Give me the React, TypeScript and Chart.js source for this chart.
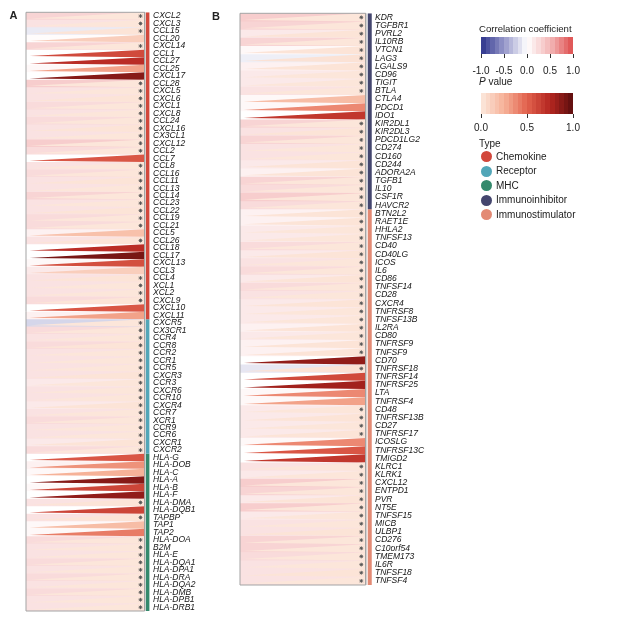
import React, { useEffect, useRef } from 'react';
import { Chart, registerables } from 'chart.js';
Chart.register(...registerables);

// ---------- DATA ----------
const genesA = ['CXCL2','CXCL3','CCL15','CCL20','CXCL14','CCL1','CCL27','CCL25','CXCL17','CCL28','CXCL5','CXCL6','CXCL1','CXCL8','CCL24','CXCL16','CX3CL1','CXCL12','CCL2','CCL7','CCL8','CCL16','CCL11','CCL13','CCL14','CCL23','CCL22','CCL19','CCL21','CCL5','CCL26','CCL18','CCL17','CXCL13','CCL3','CCL4','XCL1','XCL2','CXCL9','CXCL10','CXCL11','CXCR5','CX3CR1','CCR4','CCR8','CCR2','CCR1','CCR5','CXCR3','CCR3','CXCR6','CCR10','CXCR4','CCR7','XCR1','CCR9','CCR6','CXCR1','CXCR2','HLA-G','HLA-DOB','HLA-C','HLA-A','HLA-B','HLA-F','HLA-DMA','HLA-DQB1','TAPBP','TAP1','TAP2','HLA-DOA','B2M','HLA-E','HLA-DQA1','HLA-DPA1','HLA-DRA','HLA-DQA2','HLA-DMB','HLA-DPB1','HLA-DRB1'];
const corrA = [0.3,0.2,-0.1,0.02,0.3,0.0,0.0,0.05,0.0,0.35,0.2,0.2,0.25,0.2,0.25,0.2,0.2,0.35,0.25,0.0,0.2,0.25,0.2,0.2,0.3,0.2,0.2,0.25,0.25,0.1,0.2,0.0,0.0,0.05,0.15,0.2,0.2,0.2,0.25,0.0,0.1,-0.2,0.25,0.2,0.25,0.2,0.2,0.2,0.2,0.15,0.2,0.2,0.15,0.2,0.25,0.2,0.2,0.15,0.25,0.0,0.1,0.05,0.0,0.05,0.0,0.2,0.0,0.2,0.05,0.05,0.25,0.2,0.2,0.25,0.2,0.25,0.2,0.25,0.2,0.2];
const pA = [0.01,0.01,0.02,0.12,0.01,0.6,0.72,0.3,0.88,0.01,0.01,0.02,0.01,0.01,0.01,0.02,0.01,0.01,0.01,0.55,0.01,0.01,0.02,0.01,0.01,0.01,0.02,0.01,0.01,0.18,0.02,0.72,0.92,0.58,0.12,0.02,0.01,0.01,0.02,0.55,0.3,0.01,0.01,0.01,0.02,0.01,0.01,0.01,0.02,0.01,0.01,0.01,0.02,0.01,0.01,0.01,0.01,0.02,0.01,0.55,0.35,0.25,0.88,0.62,0.85,0.02,0.62,0.02,0.2,0.42,0.01,0.01,0.01,0.01,0.01,0.01,0.01,0.01,0.01,0.01];
const typeNamesA = ['Chemokine','Receptor','MHC'];
const typeCountsA = [41,18,21];

const genesB = ['KDR','TGFBR1','PVRL2','IL10RB','VTCN1','LAG3','LGALS9','CD96','TIGIT','BTLA','CTLA4','PDCD1','IDO1','KIR2DL1','KIR2DL3','PDCD1LG2','CD274','CD160','CD244','ADORA2A','TGFB1','IL10','CSF1R','HAVCR2','BTN2L2','RAET1E','HHLA2','TNFSF13','CD40','CD40LG','ICOS','IL6','CD86','TNFSF14','CD28','CXCR4','TNFRSF8','TNFSF13B','IL2RA','CD80','TNFRSF9','TNFSF9','CD70','TNFRSF18','TNFRSF14','TNFRSF25','LTA','TNFRSF4','CD48','TNFRSF13B','CD27','TNFRSF17','ICOSLG','TNFRSF13C','TMIGD2','KLRC1','KLRK1','CXCL12','ENTPD1','PVR','NT5E','TNFSF15','MICB','ULBP1','CD276','C10orf54','TMEM173','IL6R','TNFSF18','TNFSF4'];
const corrB = [0.35,0.3,0.15,0.3,0.05,-0.08,0.1,0.15,0.15,0.2,0.05,0.05,0.0,0.3,0.2,0.3,0.2,0.2,0.15,0.1,0.3,0.25,0.35,0.25,0.1,0.1,0.15,0.15,0.25,0.15,0.2,0.25,0.15,0.25,0.2,0.15,0.15,0.15,0.1,0.15,0.1,0.1,0.0,-0.12,0.0,0.0,0.05,0.05,0.15,0.15,0.15,0.15,0.05,0.0,0.0,0.2,0.15,0.35,0.3,0.15,0.35,0.15,0.2,0.2,0.3,0.3,0.25,0.2,0.2,0.2];
const pB = [0.01,0.01,0.02,0.01,0.02,0.03,0.02,0.01,0.01,0.01,0.2,0.38,0.68,0.01,0.02,0.01,0.01,0.01,0.02,0.02,0.01,0.01,0.01,0.01,0.02,0.02,0.01,0.01,0.01,0.02,0.01,0.01,0.02,0.01,0.01,0.02,0.01,0.01,0.02,0.01,0.02,0.02,0.85,0.03,0.6,0.8,0.38,0.3,0.01,0.02,0.01,0.02,0.38,0.55,0.68,0.01,0.01,0.01,0.01,0.02,0.01,0.01,0.01,0.02,0.01,0.01,0.01,0.01,0.02,0.01];
const typeNamesB = ['Immunoinhibitor','Immunostimulator'];
const typeCountsB = [24,46];

const legendTypes = ['Chemokine','Receptor','MHC','Immunoinhibitor','Immunostimulator'];
const corrTicks = [-1, -0.5, 0, 0.5, 1];
const pTicks = [0, 0.5, 1];

// ---------- STYLE ----------
const typeColors: Record<string, string> = {
  Chemokine: '#d2473b',
  Receptor: '#52a6b8',
  MHC: '#34896c',
  Immunoinhibitor: '#44466e',
  Immunostimulator: '#e38a74',
};
const corrStops: [number, number[]][] = [[-1,[46,52,140]],[-0.5,[150,152,202]],[0,[255,255,255]],[0.5,[243,183,183]],[1,[222,78,78]]];
const pStops: [number, number[]][] = [[0,[252,232,221]],[0.25,[246,178,152]],[0.5,[226,98,78]],[0.75,[180,38,32]],[1,[92,14,14]]];

function interp(stops: [number, number[]][], v: number) {
  if (v <= stops[0][0]) return `rgb(${stops[0][1].join(',')})`;
  for (let k = 1; k < stops.length; k++) {
    const [v1, c1] = stops[k];
    const [v0, c0] = stops[k - 1];
    if (v <= v1) {
      const t = (v - v0) / (v1 - v0);
      const c = c0.map((a, j) => Math.round(a + (c1[j] - a) * t));
      return `rgb(${c.join(',')})`;
    }
  }
  return `rgb(${stops[stops.length - 1][1].join(',')})`;
}
const corrColor = (v: number) => interp(corrStops, v);
const pColor = (v: number) => interp(pStops, v);

const FONT = 'Arial, "Liberation Sans", Helvetica, sans-serif';
const TIP_X = 0.03;
const TIP_Y = 0.33;
const STAR_X = 0.965;

function buildConfig(genes: string[], corr: number[], p: number[], typeNames: string[], typeCounts: number[],
  xMax: number, s0: number, s1: number, pad: any, labelW: number): any {
  const n = genes.length;
  const ds: any[] = [];
  genes.forEach((_, i) => {
    const ext = i < n - 1 ? 0.15 : 0;
    ds.push({
      data: [{ x: 0, y: i - 0.5 }, { x: 1, y: i - 0.5 }, { x: 1, y: i + 0.5 + ext }, { x: 0, y: i + 0.5 + ext }],
      fill: 'shape', backgroundColor: corrColor(corr[i]), borderColor: 'rgba(0,0,0,0)', borderWidth: 0,
      pointRadius: 0, order: 3000 - i,
    });
  });
  genes.forEach((_, i) => {
    ds.push({
      data: [{ x: TIP_X, y: i + TIP_Y }, { x: 1, y: i - 0.5 }, { x: 1, y: i + 0.5 }],
      fill: 'shape', backgroundColor: pColor(p[i]), borderColor: 'rgba(0,0,0,0)', borderWidth: 0,
      pointRadius: 0, order: 2000 - i,
    });
  });
  let start = 0;
  typeNames.forEach((t, k) => {
    const end = start + typeCounts[k];
    ds.push({
      data: [{ x: s0, y: start - 0.5 }, { x: s1, y: start - 0.5 }, { x: s1, y: end - 0.5 }, { x: s0, y: end - 0.5 }],
      fill: 'shape', backgroundColor: typeColors[t], borderColor: 'rgba(0,0,0,0)', borderWidth: 0,
      pointRadius: 0, order: 500,
    });
    start = end;
  });
  ds.push({
    data: [{ x: 0, y: -0.5 }, { x: 1, y: -0.5 }, { x: 1, y: n - 0.5 }, { x: 0, y: n - 0.5 }, { x: 0, y: -0.5 }],
    fill: false, borderColor: '#a3a3a3', borderWidth: 1, pointRadius: 0, clip: false, order: 10,
  });
  ds.push({
    data: genes.map((_, i) => (p[i] < 0.05 ? { x: STAR_X, y: i } : null)).filter(Boolean),
    showLine: false, pointStyle: 'star', pointRadius: 1.9, pointBorderColor: '#555', pointBackgroundColor: '#555',
    pointBorderWidth: 0.9, order: 0,
  });
  return {
    type: 'line',
    data: { datasets: ds },
    options: {
      animation: false, responsive: false, maintainAspectRatio: false,
      layout: { padding: pad },
      plugins: { legend: { display: false }, tooltip: { enabled: false }, filler: { propagate: false } },
      elements: { line: { tension: 0 }, point: { radius: 0 } },
      events: [],
      scales: {
        x: { type: 'linear', min: 0, max: xMax, display: false },
        y: {
          type: 'linear', min: -0.5, max: n - 0.5, reverse: true, position: 'right',
          grid: { display: false, drawTicks: false }, border: { display: false },
          afterBuildTicks: (s: any) => { s.ticks = genes.map((_, i) => ({ value: i })); },
          afterFit: (s: any) => { s.width = labelW; s.paddingTop = 0; s.paddingBottom = 0; },
          ticks: {
            autoSkip: false, padding: 3, color: '#151515',
            font: { family: FONT, size: 8.5, style: 'italic' },
            callback: (v: any) => genes[Math.round(Number(v))] ?? '',
          },
        },
      },
    },
  };
}

function Panel({ cfg, left, width, height }: any) {
  const ref = useRef<HTMLCanvasElement>(null);
  useEffect(() => {
    const c = new Chart(ref.current as HTMLCanvasElement, cfg);
    return () => c.destroy();
  }, []);
  return <canvas ref={ref} width={width} height={height} style={{ position: 'absolute', left, top: 0, width, height }} />;
}

function ColorBar({ top, height, color, min, max }: any) {
  const steps = 20;
  const blocks = [];
  for (let k = 0; k < steps; k++) {
    const v = min + ((k + 0.5) / steps) * (max - min);
    blocks.push(<div key={k} style={{ flex: 1, background: color(v) }} />);
  }
  return <div style={{ position: 'absolute', left: 481, top, width: 92, height, display: 'flex' }}>{blocks}</div>;
}

function Ticks({ top, ticks, min, max, labelTop }: any) {
  return (
    <>
      {ticks.map((t: number, k: number) => {
        const x = 481 + ((t - min) / (max - min)) * 92;
        return (
          <React.Fragment key={k}>
            <div style={{ position: 'absolute', left: x - 0.5, top, width: 1, height: 4, background: '#333' }} />
            <div style={{ position: 'absolute', left: x - 20, width: 40, top: labelTop, textAlign: 'center', fontSize: 10, lineHeight: '10px', color: '#222' }}>
              {t.toFixed(1)}
            </div>
          </React.Fragment>
        );
      })}
    </>
  );
}

export default function App() {
  const cfgA = buildConfig(genesA, corrA, pA, typeNamesA, typeCountsA, 1.045, 1.01, 1.04,
    { left: 26, top: 12.3, right: 0, bottom: 9 }, 55);
  const cfgB = buildConfig(genesB, corrB, pB, typeNamesB, typeCountsB, 1.05, 1.016, 1.048,
    { left: 40, top: 13.3, right: 0, bottom: 15 }, 58);
  return (
    <div style={{ position: 'absolute', left: 0, top: 0, width: 640, height: 641, background: '#fff', fontFamily: FONT, overflow: 'hidden' }}>
      <Panel cfg={cfgA} left={0} width={205} height={620} />
      <Panel cfg={cfgB} left={200} width={230} height={600} />
      <div style={{ position: 'absolute', left: 9.5, top: 10, fontSize: 11, lineHeight: '11px', fontWeight: 'bold', color: '#222' }}>A</div>
      <div style={{ position: 'absolute', left: 212, top: 10.6, fontSize: 11, lineHeight: '11px', fontWeight: 'bold', color: '#222' }}>B</div>

      <div style={{ position: 'absolute', left: 479, top: 23.6, fontSize: 9.6, lineHeight: '9.6px', color: '#222', whiteSpace: 'nowrap' }}>Correlation coefficient</div>
      <ColorBar top={37} height={17} color={corrColor} min={-1} max={1} />
      <Ticks top={54} ticks={corrTicks} min={-1} max={1} labelTop={66.3} />

      <div style={{ position: 'absolute', left: 479, top: 77, fontSize: 10, lineHeight: '10px', color: '#222', whiteSpace: 'nowrap' }}><i>P</i> value</div>
      <ColorBar top={93} height={20.5} color={pColor} min={0} max={1} />
      <Ticks top={113.5} ticks={pTicks} min={0} max={1} labelTop={123.2} />

      <div style={{ position: 'absolute', left: 479, top: 138.5, fontSize: 10, lineHeight: '10px', color: '#222' }}>Type</div>
      {legendTypes.map((t, k) => {
        const cy = 156.7 + k * 14.55;
        return (
          <React.Fragment key={t}>
            <div style={{ position: 'absolute', left: 481.2, top: cy - 5.5, width: 11, height: 11, borderRadius: '50%', background: typeColors[t] }} />
            <div style={{ position: 'absolute', left: 496, top: cy - 4.9, fontSize: 10, lineHeight: '10px', color: '#222', whiteSpace: 'nowrap' }}>{t}</div>
          </React.Fragment>
        );
      })}
    </div>
  );
}
